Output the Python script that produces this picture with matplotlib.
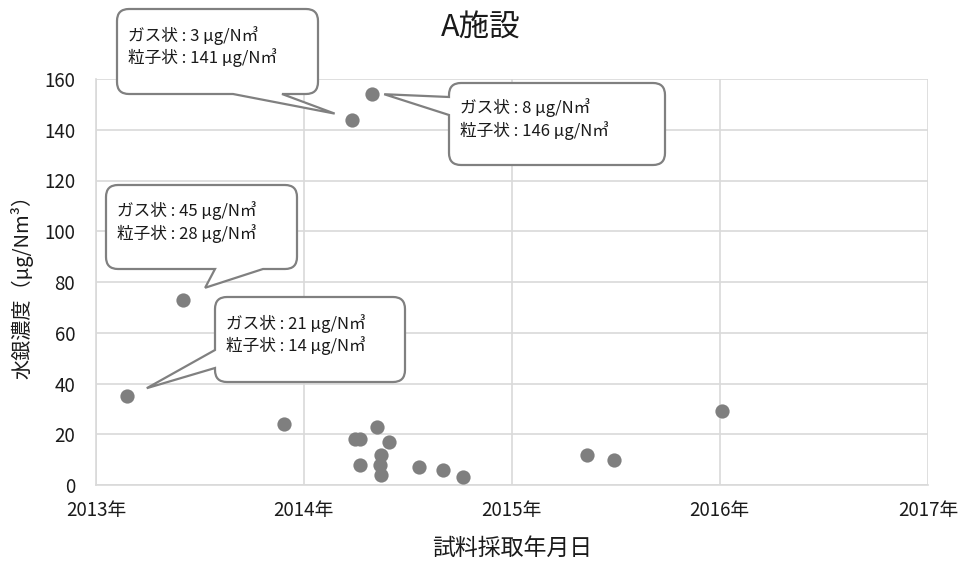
import datetime as dt

import matplotlib.dates as mdates
import matplotlib.pyplot as plt
from matplotlib.path import Path
from matplotlib.patches import PathPatch
from matplotlib.transforms import IdentityTransform

plt.rcParams["font.family"] = ["Noto Sans CJK JP", "DejaVu Sans"]

# sampling dates and total mercury concentration (µg/Nm3)
sample_dates = [
    "2013-02-24", "2013-06-03", "2013-11-28", "2014-03-26", "2014-05-01",
    "2014-05-09", "2014-04-01", "2014-04-09", "2014-05-30", "2014-05-16",
    "2014-04-10", "2014-05-14", "2014-05-16", "2014-07-23", "2014-09-03",
    "2014-10-08", "2015-05-14", "2015-06-29", "2016-01-06",
]
concentration = [35, 73, 24, 144, 154, 23, 18, 18, 17, 12, 8, 8, 4, 7, 6, 3, 12, 10, 29]

year_ticks = [2013, 2014, 2015, 2016, 2017]
y_ticks = [0, 20, 40, 60, 80, 100, 120, 140, 160]

# callouts: index of point, gas / particle values
callout_points = [3, 4, 1, 0]
gas_values = [3, 8, 45, 21]
particle_values = [141, 146, 28, 14]

W, H = 962, 565
TEXT = "#1a1a1a"
fig = plt.figure(figsize=(W / 100, H / 100), dpi=100)
ax_left, ax_right, ax_top, ax_bottom = 96, 928, 79, 485
ax = fig.add_axes([ax_left / W, 1 - ax_bottom / H,
                   (ax_right - ax_left) / W, (ax_bottom - ax_top) / H])

dates = [dt.datetime.strptime(d, "%Y-%m-%d") for d in sample_dates]
ax.scatter(dates, concentration, s=105, color="#7f7f7f", zorder=3, clip_on=False,
           linewidths=0)

ax.set_xlim(dt.datetime(year_ticks[0], 1, 1), dt.datetime(year_ticks[-1], 1, 1))
ax.set_ylim(0, 160)
ax.set_xticks([dt.datetime(y, 1, 1) for y in year_ticks])
ax.set_xticklabels([f"{y}年" for y in year_ticks])
ax.set_yticks(y_ticks)
ax.tick_params(length=0, labelsize=13.5, labelcolor=TEXT)
ax.tick_params(axis="x", pad=11)
ax.tick_params(axis="y", pad=15)
ax.grid(True, color="#d9d9d9", linewidth=1.2)
ax.set_axisbelow(True)
for side in ["top", "right"]:
    ax.spines[side].set_visible(False)
for side in ["left", "bottom"]:
    ax.spines[side].set_color("#d9d9d9")
    ax.spines[side].set_linewidth(1.2)

ax.set_xlabel("試料採取年月日", fontsize=16.5, color=TEXT, va="center")
ax.xaxis.set_label_coords(0.5, (ax_bottom - 548) / (ax_bottom - ax_top))
ax.set_ylabel("水銀濃度（μg/Nm³）", fontsize=14.5, color=TEXT, va="center")
ax.yaxis.set_label_coords((22 - ax_left) / (ax_right - ax_left), 0.5)
fig.text(481 / W, 1 - 28 / H, "A施設", fontsize=22, color=TEXT,
         ha="center", va="center")


def callout_path(box, r, edge, base, tip):
    """Rounded box with a pointer, pixel coords with y downwards."""
    x0, y0, x1, y1 = box
    verts = [(x0 + r, y0), (x1 - r, y0), (x1, y0), (x1, y0 + r), (x1, y1 - r),
             (x1, y1), (x1 - r, y1)]
    codes = [Path.MOVETO, Path.LINETO, Path.CURVE3, Path.CURVE3, Path.LINETO,
             Path.CURVE3, Path.CURVE3]
    if edge == "bottom":
        verts += [(base[1], y1), tip, (base[0], y1)]
        codes += [Path.LINETO] * 3
    verts += [(x0 + r, y1), (x0, y1), (x0, y1 - r)]
    codes += [Path.LINETO, Path.CURVE3, Path.CURVE3]
    if edge == "left":
        verts += [(x0, base[1]), tip, (x0, base[0])]
        codes += [Path.LINETO] * 3
    verts += [(x0, y0 + r), (x0, y0), (x0 + r, y0), (x0 + r, y0)]
    codes += [Path.LINETO, Path.CURVE3, Path.CURVE3, Path.CLOSEPOLY]
    return Path([(x, H - y) for x, y in verts], codes)


# box layout (pixels), pointer edge, pointer base, tip offset from point
boxes = [(117, 9, 318, 94), (449, 83, 665, 165), (106, 185, 297, 269), (215, 297, 405, 382)]
edges = ["bottom", "left", "bottom", "left"]
bases = [(233, 282), (97, 115), (215, 263), (350, 368)]
tip_offsets = [(-17, -6), (12, 0), (22, -12), (20, -8)]

fig.canvas.draw()
for i, idx in enumerate(callout_points):
    px, py = ax.transData.transform((mdates.date2num(dates[idx]), concentration[idx]))
    tip = (px + tip_offsets[i][0], H - py + tip_offsets[i][1])
    path = callout_path(boxes[i], 12, edges[i], bases[i], tip)
    fig.add_artist(PathPatch(path, facecolor="white", edgecolor="#808080",
                             linewidth=1.6, transform=IdentityTransform(), zorder=5))
    x0, y0, x1, y1 = boxes[i]
    label = f"ガス状 : {gas_values[i]} μg/N㎥\n粒子状 : {particle_values[i]} μg/N㎥"
    fig.text((x0 + 11) / W, 1 - ((y0 + y1) / 2 - 5) / H, label, fontsize=12,
             color=TEXT, ha="left", va="center", linespacing=1.25, zorder=6)

fig.savefig("out.png", dpi=100)
